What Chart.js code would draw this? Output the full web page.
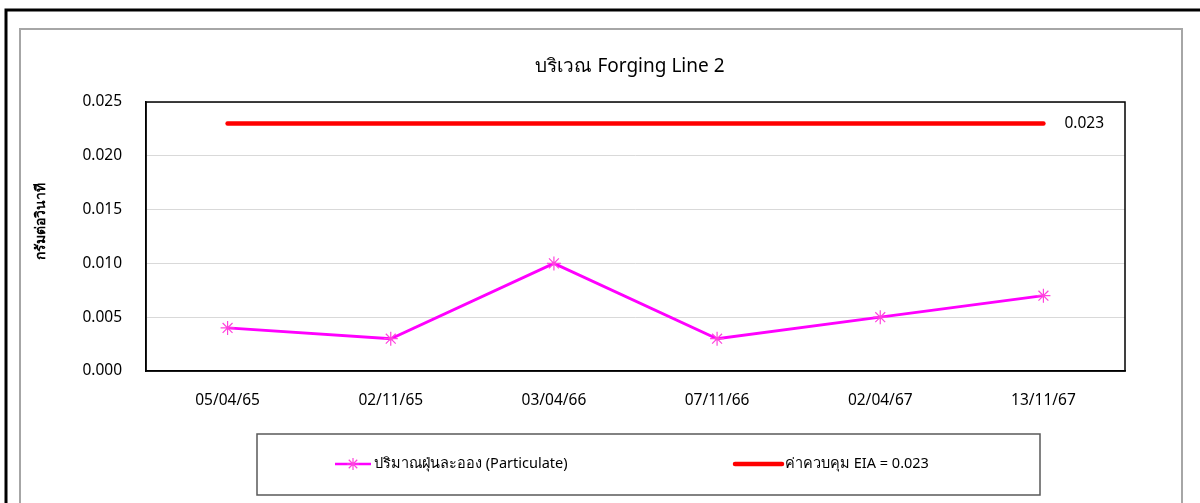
<!DOCTYPE html>
<html>
<head>
<meta charset="utf-8">
<script src="https://cdn.jsdelivr.net/npm/chart.js@4/dist/chart.umd.min.js"></script>
<style>
  html,body{margin:0;padding:0;background:#fff;}
  #wrap{width:1200px;height:503px;position:relative;}
</style>
</head>
<body>
<div id="wrap"><canvas id="c" width="1200" height="503"></canvas></div>
<script>
'use strict';

/* ข้อมูลจากกราฟ */
const labels   = ['05/04/65','02/11/65','03/04/66','07/11/66','02/04/67','13/11/67'];
const dust     = [0.004, 0.003, 0.010, 0.003, 0.005, 0.007];
const limitEIA = [0.023, 0.023, 0.023, 0.023, 0.023, 0.023];
const yTicks   = [0, 0.005, 0.010, 0.015, 0.020, 0.025];

const TITLE = 'บริเวณ Forging Line 2';
const YTITLE = 'กรัมต่อวินาที';
const FONT = "'Noto Sans', Tahoma, 'DejaVu Sans', sans-serif";
const PINK = '#ff00ff', RED = '#ff0000';

/* กรอบรอบนอก + กรอบเทา + หัวเรื่อง */
const framePlugin = {
  id:'frame',
  beforeDraw(chart){
    const c = chart.ctx;
    c.save();
    c.fillStyle = '#fff'; c.fillRect(0,0,chart.width,chart.height);
    c.strokeStyle = '#000'; c.lineWidth = 3;
    c.strokeRect(6,10,1250,600);
    c.strokeStyle = '#a6a6a6'; c.lineWidth = 2;
    c.strokeRect(20,29,1162,600);
    // หัวเรื่อง
    c.fillStyle = '#000'; c.textAlign = 'center'; c.textBaseline = 'middle';
    c.font = '19px ' + FONT;
    c.fillText(TITLE, 630, 67);
    // ชื่อแกน y
    c.translate(41, 221); c.rotate(-Math.PI/2);
    c.font = 'bold 14px ' + FONT;
    c.fillText(YTITLE, 0, 0);
    c.restore();
  },
  afterDraw(chart){
    const c = chart.ctx, a = chart.chartArea;
    c.save();
    c.strokeStyle = '#000'; c.lineWidth = 1.5;
    c.strokeRect(a.left, a.top, a.right-a.left, a.bottom-a.top);
    c.restore();
  }
};

/* ป้ายค่า 0.023 ท้ายเส้นแดง */
const endLabelPlugin = {
  id:'endLabel',
  afterDatasetsDraw(chart){
    const meta = chart.getDatasetMeta(1);
    const last = meta.data[meta.data.length-1];
    const c = chart.ctx;
    c.save();
    c.font = '15.5px ' + FONT; c.fillStyle = '#000';
    c.textBaseline = 'middle'; c.textAlign = 'left';
    c.fillText(limitEIA[limitEIA.length-1].toFixed(3), last.x + 21, last.y);
    c.restore();
  }
};

/* กล่องคำอธิบาย */
const legendBoxPlugin = {
  id:'legendBox',
  afterDraw(chart){
    const c = chart.ctx;
    c.save();
    c.strokeStyle = '#595959'; c.lineWidth = 1.5;
    c.strokeRect(257,434,783,61);
    const y = 464;
    c.font = '14.5px ' + FONT; c.fillStyle = '#000'; c.textBaseline = 'middle';
    // ชุดที่ 1: เส้นชมพู + เครื่องหมายดอกจัน
    const d0 = chart.data.datasets[0];
    c.strokeStyle = d0.borderColor; c.lineWidth = 2.5;
    c.beginPath(); c.moveTo(335,y); c.lineTo(371,y); c.stroke();
    c.strokeStyle = d0.pointBorderColor; c.lineWidth = 1.2;
    const r = 6;
    c.beginPath();
    for(let k=0;k<4;k++){
      const ang = k*Math.PI/4;
      c.moveTo(353 - r*Math.cos(ang), y - r*Math.sin(ang));
      c.lineTo(353 + r*Math.cos(ang), y + r*Math.sin(ang));
    }
    c.stroke();
    c.fillText(d0.label, 374, y);
    // ชุดที่ 2: เส้นแดงหนา
    const d1 = chart.data.datasets[1];
    c.strokeStyle = d1.borderColor; c.lineWidth = 4.5; c.lineCap = 'round';
    c.beginPath(); c.moveTo(735,y); c.lineTo(782,y); c.stroke();
    c.fillText(d1.label, 785, y);
    c.restore();
  }
};

new Chart(document.getElementById('c'), {
  type:'line',
  data:{
    labels,
    datasets:[
      { label:'ปริมาณฝุ่นละออง (Particulate)', data:dust,
        borderColor:PINK, backgroundColor:PINK, borderWidth:2.8,
        pointStyle:'star', pointRadius:7, pointBorderColor:'#ff44dd', pointBorderWidth:1.2,
        tension:0 },
      { label:'ค่าควบคุม EIA = 0.023', data:limitEIA,
        borderColor:RED, backgroundColor:RED, borderWidth:4.5, borderCapStyle:'round',
        pointRadius:0, tension:0 }
    ]
  },
  options:{
    responsive:false, animation:false,
    layout:{ padding:{ left:30, right:75, top:102, bottom:82 } },
    plugins:{
      legend:{ display:false },
      tooltip:{ enabled:false },
      title:{ display:false }
    },
    scales:{
      x:{
        offset:true,
        grid:{ display:false, drawTicks:false },
        border:{ color:'#000', width:1.5 },
        ticks:{ color:'#000', padding:20, font:{ family:FONT, size:15.5 }, maxRotation:0 },
        afterFit(s){ s.height = 50; }
      },
      y:{
        min:0, max:0.025,
        afterBuildTicks(s){ s.ticks = yTicks.map(v=>({value:v})); },
        grid:{ color:'#d9d9d9', drawTicks:false },
        border:{ color:'#000', width:1.5 },
        ticks:{ color:'#000', padding:24, font:{ family:FONT, size:15.5 },
          callback:(v)=>Number(v).toFixed(3) },
        afterFit(s){ s.width = 116; }
      }
    }
  },
  plugins:[framePlugin, endLabelPlugin, legendBoxPlugin]
});
</script>
</body>
</html>
